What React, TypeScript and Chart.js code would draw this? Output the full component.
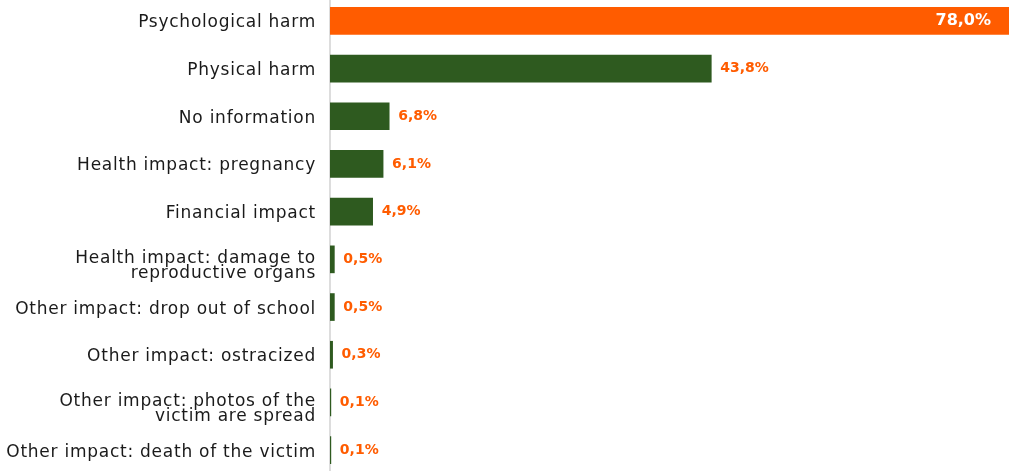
import React, { useEffect, useRef } from "react";
import { Chart, registerables } from "chart.js";

Chart.register(...registerables);

const categories: (string | string[])[] = [
  "Psychological harm",
  "Physical harm",
  "No information",
  "Health impact: pregnancy",
  "Financial impact",
  ["Health impact: damage to", "reproductive organs"],
  "Other impact: drop out of school",
  "Other impact: ostracized",
  ["Other impact: photos of the", "victim are spread"],
  "Other impact: death of the victim",
];
const values: number[] = [78.0, 43.8, 6.8, 6.1, 4.9, 0.5, 0.5, 0.3, 0.1, 0.1];
const valueLabels: string[] = ["78,0%", "43,8%", "6,8%", "6,1%", "4,9%", "0,5%", "0,5%", "0,3%", "0,1%", "0,1%"];

const ORANGE = "#FF5C00";
const GREEN = "#2E5A1F";
const FONT = "'DejaVu Sans', sans-serif";

const labelPlugin = {
  id: "customLabels",
  afterDatasetsDraw(chart: any) {
    const ctx = chart.ctx;
    const meta = chart.getDatasetMeta(0);
    const yScale = chart.scales.y;
    ctx.save();
    // category labels
    ctx.font = `17px ${FONT}`;
    ctx.fillStyle = "#1a1a1a";
    ctx.textAlign = "right";
    ctx.textBaseline = "alphabetic";
    (ctx as any).letterSpacing = "0.75px";
    const labelRight = yScale.right - 14;
    categories.forEach((lab, i) => {
      const cy = yScale.getPixelForValue(i);
      if (Array.isArray(lab)) {
        ctx.fillText(lab[0], labelRight, cy + 4);
        ctx.fillText(lab[1], labelRight, cy + 19);
      } else {
        ctx.fillText(lab, labelRight, cy + 6.5);
      }
    });
    (ctx as any).letterSpacing = "0px";
    // value labels
    meta.data.forEach((bar: any, i: number) => {
      ctx.textBaseline = "middle";
      if (i === 0) {
        ctx.font = `bold 16px ${FONT}`;
        ctx.fillStyle = "#ffffff";
        ctx.textAlign = "right";
        ctx.fillText(valueLabels[i], bar.x - 18, bar.y);
      } else {
        ctx.font = `bold 14px ${FONT}`;
        ctx.fillStyle = ORANGE;
        ctx.textAlign = "left";
        ctx.fillText(valueLabels[i], bar.x + 9, bar.y);
      }
    });
    ctx.restore();
  },
};

export default function App() {
  const ref = useRef<HTMLCanvasElement>(null);
  useEffect(() => {
    document.body.style.margin = "0";
    const chart = new Chart(ref.current!, {
      type: "bar",
      data: {
        labels: categories,
        datasets: [
          {
            data: values,
            backgroundColor: values.map((_, i) => (i === 0 ? ORANGE : GREEN)),
            barThickness: 27,
          },
        ],
      },
      options: {
        indexAxis: "y",
        animation: false,
        responsive: true,
        maintainAspectRatio: false,
        layout: { padding: 0 },
        plugins: { legend: { display: false }, tooltip: { enabled: false } },
        scales: {
          x: { display: false, min: 0, max: 78 },
          y: {
            grid: { display: false },
            border: { display: true, color: "#dddddd", width: 2 },
            ticks: { display: false },
            afterFit(scale: any) {
              scale.width = 330;
              scale.paddingTop = 0;
              scale.paddingBottom = 0;
            },
          },
        },
      },
      plugins: [labelPlugin],
    });
    return () => chart.destroy();
  }, []);
  return (
    <div style={{ width: 1009, height: 471, overflow: "hidden" }}>
      <div style={{ width: 1009, height: 477, position: "relative", top: -3 }}>
        <canvas ref={ref} />
      </div>
    </div>
  );
}
